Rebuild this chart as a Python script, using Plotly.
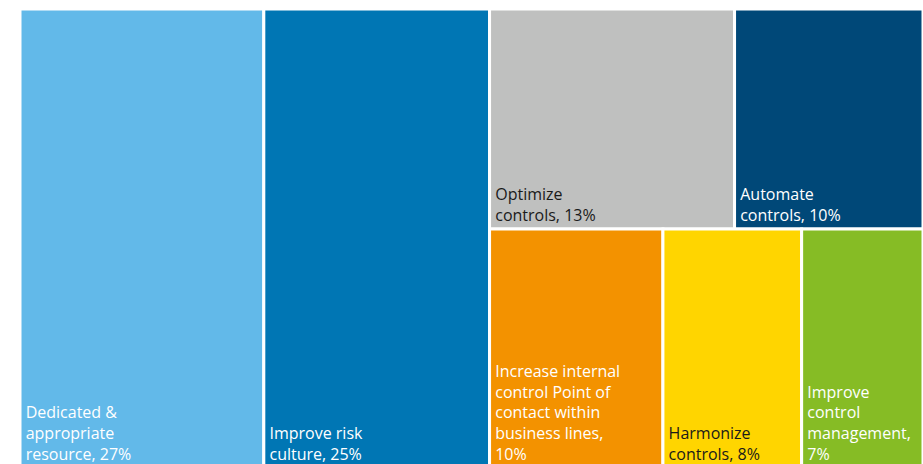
import plotly.graph_objects as go

# Leaf categories (share of respondents, %)
labels = [
    "Dedicated &<br>appropriate<br>resource",
    "Improve risk<br>culture",
    "Optimize<br>controls",
    "Automate<br>controls",
    "Increase internal<br>control Point of<br>contact within<br>business lines,<br>",
    "Harmonize<br>controls",
    "Improve<br>control<br>management,<br>",
]
values = [27, 25, 13, 10, 10, 8, 7]
groups = ["root", "root", "top", "top", "bottom", "bottom", "bottom"]
colors = ["#62B9E9", "#0076B4", "#BFC0BF", "#004878", "#F39200", "#FFD500", "#86BC25"]
text_colors = ["#FFFFFF", "#FFFFFF", "#1A1A1A", "#FFFFFF", "#FFFFFF", "#1A1A1A", "#FFFFFF"]

# Grouping nodes for the nested slice/dice layout: root -> columns,
# right block -> rows (top, bottom), rows -> columns
group_ids = ["right", "top", "bottom"]
group_parents = ["root", "right", "right"]

ids, parents, vals, texts, fills, tcolors = ["root"], [""], [0], [""], ["#FFFFFF"], ["#FFFFFF"]


def add_node(node_id, parent, value, text, fill, tcolor):
    ids.append(node_id)
    parents.append(parent)
    vals.append(value)
    texts.append(text)
    fills.append(fill)
    tcolors.append(tcolor)


def add_leaf(i):
    lab = labels[i]
    sep = "" if lab.endswith("<br>") else ", "
    pad = "\u2009"
    lines = f"{lab}{sep}{values[i]}%".split("<br>")
    add_node(f"leaf{i}", groups[i], values[i], "<br>".join(pad + ln for ln in lines),
             colors[i], text_colors[i])


# Leaves directly under root first, then the right-hand block
for i, g in enumerate(groups):
    if g == "root":
        add_leaf(i)
for gid, gpar in zip(group_ids, group_parents):
    add_node(gid, gpar, 0, "", "#FFFFFF", "#FFFFFF")
    for i, g in enumerate(groups):
        if g == gid:
            add_leaf(i)

fig = go.Figure(
    go.Treemap(
        ids=ids,
        labels=ids,
        parents=parents,
        values=vals,
        text=texts,
        texttemplate="%{text}",
        textposition="bottom left",
        textfont=dict(family="Open Sans", size=16, color=tcolors),
        marker=dict(
            colors=fills,
            line=dict(color="#FFFFFF", width=3),
            pad=dict(t=0, l=0, r=0, b=0),
        ),
        tiling=dict(packing="slice-dice", pad=0),
        pathbar=dict(visible=False),
        sort=False,
        branchvalues="remainder",
        hoverinfo="skip",
    )
)

fig.update_layout(
    width=923,
    height=468,
    margin=dict(l=20, r=0, t=9, b=0),
    paper_bgcolor="#FFFFFF",
    font=dict(family="Open Sans"),
)

fig.write_html("out.html", post_script="document.body.style.overflow='hidden';")
